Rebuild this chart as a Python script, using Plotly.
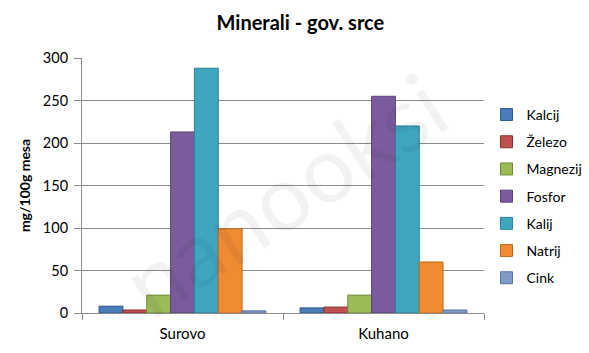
import plotly.graph_objects as go

categories = ["Surovo", "Kuhano"]
series_names = ["Kalcij", "Železo", "Magnezij", "Fosfor", "Kalij", "Natrij", "Cink"]
kalcij = [8, 6]
zelezo = [3.5, 7]
magnezij = [21, 21]
fosfor = [213, 255]
kalij = [288, 220]
natrij = [99, 60]
cink = [2.5, 3.5]
values = [kalcij, zelezo, magnezij, fosfor, kalij, natrij, cink]
colors = ["#4A7CB8", "#C0504D", "#9BBB59", "#7A5C9E", "#3FA6C0", "#F08A33", "#7F9CC8"]
edges = ["#2C5A8F", "#8E2F2C", "#6E8A3A", "#5A4478", "#2D8099", "#C26A1C", "#5873A0"]

font = "Lato, 'Open Sans', sans-serif"
fig = go.Figure()
for name, vals, c, e in zip(series_names, values, colors, edges):
    fig.add_trace(go.Bar(
        x=categories, y=vals, name=name, legendgroup=name,
        marker=dict(color=c, line=dict(color=e, width=1)),
    ))

fig.add_annotation(text="nanooksi", x=0.5, y=0.47, xref="paper", yref="paper",
                   showarrow=False, textangle=-33,
                   font=dict(family=font, size=92, color="rgba(0,0,0,0.05)"))

fig.update_layout(
    width=589, height=353,
    margin=dict(l=82, r=105, t=58, b=40, autoexpand=False),
    paper_bgcolor="white", plot_bgcolor="white",
    barmode="group", bargap=0.17, bargroupgap=0,
    font=dict(family=font, size=14, color="#000"),
    title=dict(text="<b>Minerali - gov. srce</b>", x=0.51, xanchor="center",
               y=0.935, yanchor="middle", font=dict(size=20, family=font)),
    legend=dict(xref="container", x=0.826, y=0.457, yanchor="middle", xanchor="left",
                tracegroupgap=6, font=dict(size=14, family=font),
                itemwidth=30),
    yaxis=dict(range=[0, 300], dtick=50, showgrid=True, gridcolor="#8C8C8C",
               gridwidth=1, showline=True, linecolor="#8C8C8C",
               ticks="outside", ticklen=7, tickcolor="#8C8C8C",
               ticklabelstandoff=3,
               title=dict(text="<b>mg/100g mesa</b>", font=dict(size=14), standoff=8),
               tickfont=dict(size=14.5), zeroline=False),
    xaxis=dict(showline=True, linecolor="#8C8C8C", ticks="outside",
               tickson="boundaries", ticklen=6, tickcolor="#8C8C8C",
               ticklabelstandoff=7,
               tickfont=dict(size=15)),
)
fig.write_html("out.html")
